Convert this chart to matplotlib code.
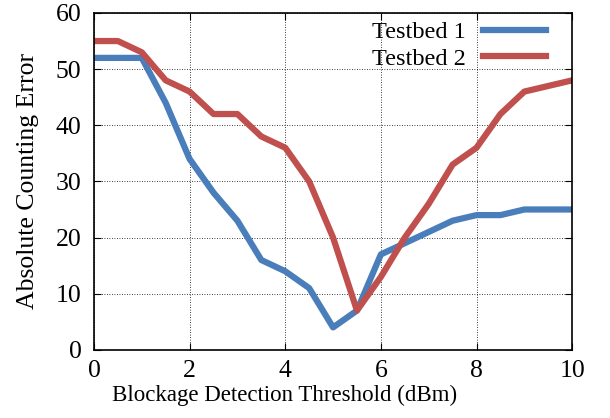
import numpy as np
import matplotlib.pyplot as plt

plt.rcParams['font.family'] = ['Liberation Serif', 'DejaVu Serif']
plt.rcParams['font.size'] = 18.5

x = np.arange(0, 10.5, 0.5)
testbed1 = [52, 52, 52, 44, 34, 28, 23, 16, 14, 11, 4, 7, 17, 19, 21, 23, 24, 24, 25, 25, 25]
testbed2 = [55, 55, 53, 48, 46, 42, 42, 38, 36, 30, 20, 7, 13, 20, 26, 33, 36, 42, 46, 47, 48]

fig = plt.figure(figsize=(6.1, 4.18), dpi=100)
ax = fig.add_axes([0.154, 0.163, 0.784, 0.806])

ax.plot(x, testbed1, color='#4a7ebb', lw=4.5, label='Testbed 1')
ax.plot(x, testbed2, color='#c0504d', lw=4.5, label='Testbed 2')

ax.set_xlim(0, 10)
ax.set_ylim(0, 60)
ax.set_xticks(range(0, 11, 2))
ax.set_yticks(range(0, 61, 10))
ax.grid(True, color='black', linestyle=(0, (1, 2)), linewidth=0.6)
ax.tick_params(direction='in', top=True, right=True, length=5)
ax.tick_params(axis='x', pad=7)
ax.tick_params(axis='y', pad=9)
for s in ax.spines.values():
    s.set_linewidth(1.2)

ax.set_xlabel('Blockage Detection Threshold (dBm)', fontsize=16.5)
ax.xaxis.set_label_coords(0.398, -0.104)
ax.set_ylabel('Absolute Counting Error', fontsize=18.5)
ax.yaxis.set_label_coords(-0.114, 0.5)
ax.legend(loc='upper right', bbox_to_anchor=(0.945, 0.976), frameon=False,
          markerfirst=False, fontsize=17.5, handlelength=2.6,
          borderaxespad=0, borderpad=0, labelspacing=0.2, handletextpad=0.7)

fig.savefig('out.png')
